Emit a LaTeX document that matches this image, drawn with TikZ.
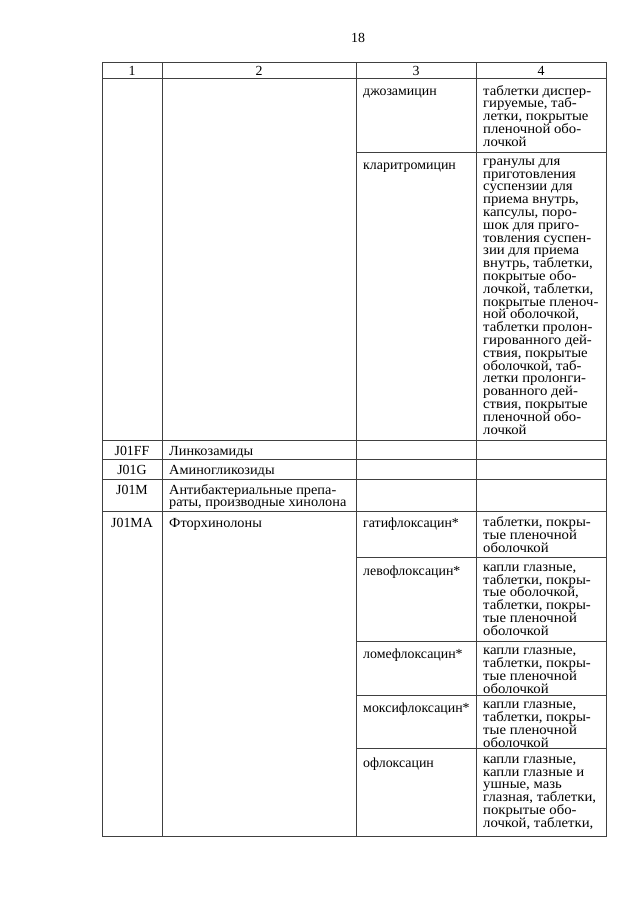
\documentclass[tikz,border=0pt]{standalone}
\usepackage{fontspec}
\setmainfont{Liberation Serif}
\newfontfamily\widefontA[FakeStretch=1.03]{Liberation Serif}
\newfontfamily\widefontB[FakeStretch=1.06]{Liberation Serif}
\newcommand{\cellfont}{\fontsize{13.9}{12.8}\selectfont\lineskiplimit=-20pt\lineskip=0pt}
\newcommand{\topstrut}{\rule{0pt}{10.5pt}}
\begin{document}
\begin{tikzpicture}[x=1pt,y=-1pt,
  rule/.style={draw=black!75,line width=0.8pt},
  cell/.style={anchor=north west,inner sep=0pt,align=left,font=\cellfont,execute at begin node=\topstrut},
  celltwo/.style={cell,font=\widefontA\cellfont},
  cellfour/.style={cell,font=\widefontB\cellfont},
  ccell/.style={anchor=north,inner sep=0pt,align=center,font=\cellfont,execute at begin node=\topstrut},
  head/.style={anchor=center,inner sep=0pt,font=\cellfont}]
\useasboundingbox[fill=white] (0,0) rectangle (640,905);
% page number
\node[head] (pg) at (358,38) {18};
% table frame
\draw[rule] (102,62) rectangle (606,836);
\foreach \y in {78,440,459,479,511} \draw[rule] (102,\y) -- (606,\y);
\foreach \y in {152,557,641,695,748} \draw[rule] (356,\y) -- (606,\y);
\foreach \x in {162,356,476} \draw[rule] (\x,62) -- (\x,836);
% header
\node[head] (h1) at (132,70.5) {1};
\node[head] (h2) at (259,70.5) {2};
\node[head] (h3) at (416,70.5) {3};
\node[head] (h4) at (541,70.5) {4};
% column 1
\node[ccell] (c1a) at (132,444.5) {J01FF};
\node[ccell] (c1b) at (132,464) {J01G};
\node[ccell] (c1c) at (132,484) {J01M};
\node[ccell] (c1d) at (132,516.5) {J01MA};
% column 2
\node[celltwo] (c2a) at (169,444.5) {Линкозамиды};
\node[celltwo] (c2b) at (169,464) {Аминогликозиды};
\node[celltwo] (c2c) at (169,484) {Антибактериальные препа-\\раты, производные хинолона};
\node[celltwo] (c2d) at (169,516.5) {Фторхинолоны};
% column 3
\node[cell] (d1) at (363,85) {джозамицин};
\node[cell] (d2) at (363,158.5) {кларитромицин};
\node[cell] (d3) at (363,516.5) {гатифлоксацин*};
\node[cell] (d4) at (363,564.5) {левофлоксацин*};
\node[cell] (d5) at (363,648) {ломефлоксацин*};
\node[cell] (d6) at (363,702) {моксифлоксацин*};
\node[cell] (d7) at (363,756.5) {офлоксацин};
% column 4
\node[cellfour] (f1) at (483,85) {таблетки диспер-\\гируемые, таб-\\летки, покрытые\\пленочной обо-\\лочкой};
\node[cellfour] (f2) at (483,158.5) {гранулы для\\приготовления\\суспензии для\\приема внутрь,\\капсулы, поро-\\шок для приго-\\товления суспен-\\зии для приема\\внутрь, таблетки,\\покрытые обо-\\лочкой, таблетки,\\покрытые пленоч-\\ной оболочкой,\\таблетки пролон-\\гированного дей-\\ствия, покрытые\\оболочкой, таб-\\летки пролонги-\\рованного дей-\\ствия, покрытые\\пленочной обо-\\лочкой};
\node[cellfour] (f3) at (483,516.5) {таблетки, покры-\\тые пленочной\\оболочкой};
\node[cellfour] (f4) at (483,564.5) {капли глазные,\\таблетки, покры-\\тые оболочкой,\\таблетки, покры-\\тые пленочной\\оболочкой};
\node[cellfour] (f5) at (483,648) {капли глазные,\\таблетки, покры-\\тые пленочной\\оболочкой};
\node[cellfour] (f6) at (483,702) {капли глазные,\\таблетки, покры-\\тые пленочной\\оболочкой};
\node[cellfour] (f7) at (483,756.5) {капли глазные,\\капли глазные и\\ушные, мазь\\глазная, таблетки,\\покрытые обо-\\лочкой, таблетки,};
\end{tikzpicture}
\end{document}
